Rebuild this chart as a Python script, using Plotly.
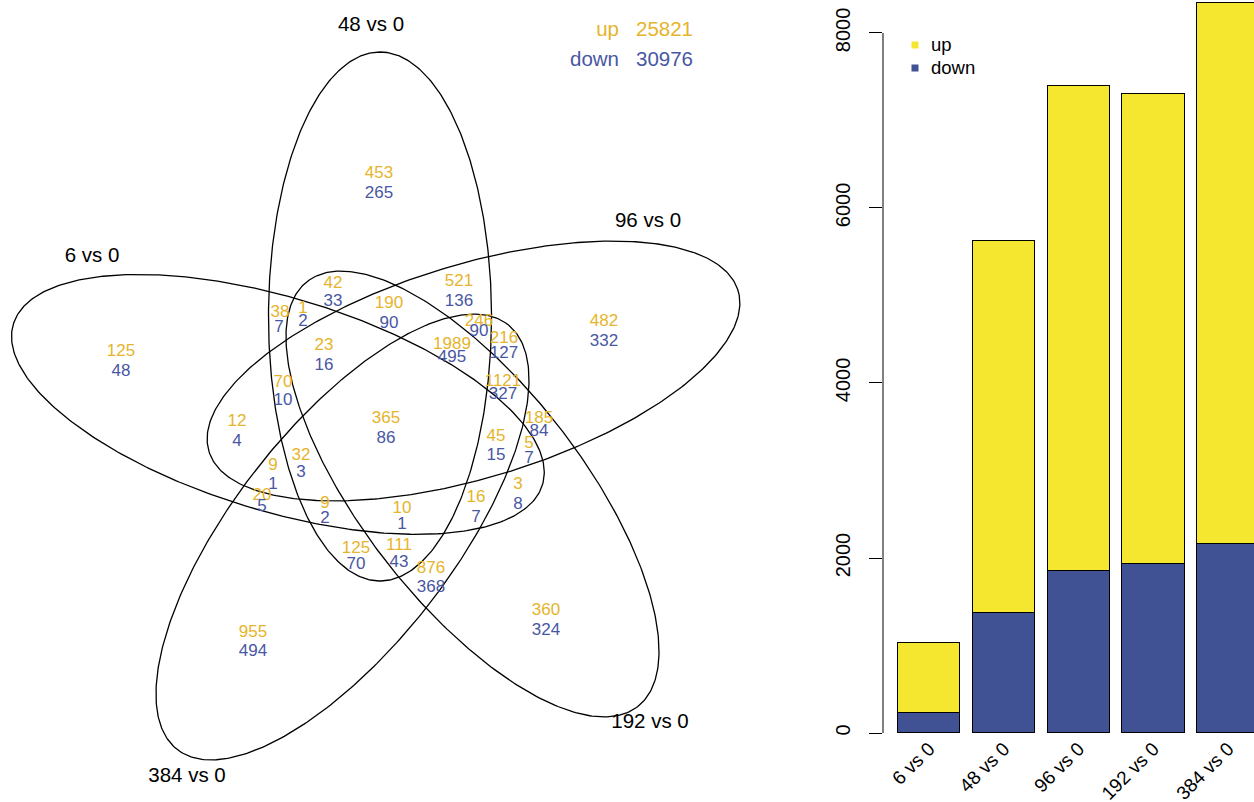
import numpy as np
import plotly.graph_objects as go

# ---------------- data ----------------
comparisons = ["6 vs 0", "48 vs 0", "96 vs 0", "192 vs 0", "384 vs 0"]
down_counts = [233, 1375, 1848, 1931, 2160]
up_counts = [792, 4248, 5546, 5372, 6186]          # stacked on top of the down part

total_up = 25821
total_down = 30976

# per-region counts of the five-set Venn diagram
region_up = [453, 482, 125, 955, 360, 365, 521, 190, 42, 38, 1, 23, 70, 12, 9, 32,
             20, 9, 10, 125, 111, 876, 16, 3, 45, 5, 185, 1121, 216, 246, 1989]
region_down = [265, 332, 48, 494, 324, 86, 136, 90, 33, 7, 2, 16, 10, 4, 1, 3,
               5, 2, 1, 70, 43, 368, 7, 8, 15, 7, 84, 327, 127, 90, 495]

# ---------------- layout helpers (pixel positions of the venn panel) ----------------
W, H = 1254, 802
UP_TXT = "#E6B42C"
DOWN_TXT = "#4857A3"
UP_BAR = "#F5E62F"
DOWN_BAR = "#405194"
FONT = "Liberation Sans, Arial, Helvetica, sans-serif"
TXT_DY = 1   # baseline correction for vertically centred text

up_pos = [(379, 173), (604, 321), (121, 351), (253, 632), (546, 610), (386, 418),
          (459, 281), (389, 303), (333, 283), (280, 312), (303, 308), (324, 345),
          (283, 382), (237, 421), (273, 465), (301, 455), (262, 495), (325, 503),
          (402, 508), (356, 548), (399, 545), (431, 568), (476, 497), (518, 484),
          (496, 436), (529, 443), (539, 418), (503, 381), (504, 338), (479, 321),
          (452, 344)]
down_pos = [(379, 193), (604, 341), (121, 371), (253, 651), (546, 630), (386, 438),
            (459, 301), (389, 323), (333, 301), (279, 327), (303, 321), (324, 365),
            (283, 400), (237, 441), (273, 484), (301, 472), (262, 506), (325, 518),
            (402, 524), (356, 564), (399, 562), (431, 587), (476, 517), (518, 504),
            (496, 455), (529, 458), (539, 431), (503, 394), (504, 353), (479, 331),
            (452, 357)]

# ellipse geometry: centre (px), orientation of the major axis (deg), semi axes
ell_centres = {"6 vs 0": (277.9, 404.4), "48 vs 0": (380, 316.5), "96 vs 0": (473.5, 371),
               "192 vs 0": (472.5, 494), "384 vs 0": (342.5, 537)}
ell_angle = {"6 vs 0": 162, "48 vs 0": 90, "96 vs 0": 18, "192 vs 0": 126, "384 vs 0": 54}
SEMI_A, SEMI_B, X_STRETCH = 264.5, 106.2, 1.05

set_label_pos = {"6 vs 0": (92, 256), "48 vs 0": (371, 25), "96 vs 0": (648, 221),
                 "192 vs 0": (650, 722), "384 vs 0": (187, 776)}


def ys(points):
    return [p[1] + TXT_DY for p in points]


fig = go.Figure()

# ---------------- Venn diagram ----------------
t = np.linspace(0, 2 * np.pi, 400)
for name in comparisons:
    cx, cy = ell_centres[name]
    phi = np.deg2rad(ell_angle[name])
    ex = SEMI_A * np.cos(t) * np.cos(phi) - SEMI_B * np.sin(t) * np.sin(phi)
    ey = SEMI_A * np.cos(t) * np.sin(phi) + SEMI_B * np.sin(t) * np.cos(phi)
    fig.add_trace(go.Scatter(x=cx + X_STRETCH * ex, y=cy - ey, mode="lines",
                             line=dict(color="black", width=1.3),
                             xaxis="x2", yaxis="y2", hoverinfo="skip", showlegend=False))

fig.add_trace(go.Scatter(x=[p[0] for p in up_pos], y=ys(up_pos),
                         text=[str(v) for v in region_up], mode="text",
                         textfont=dict(family=FONT, size=17, color=UP_TXT),
                         xaxis="x2", yaxis="y2", showlegend=False))
fig.add_trace(go.Scatter(x=[p[0] for p in down_pos], y=ys(down_pos),
                         text=[str(v) for v in region_down], mode="text",
                         textfont=dict(family=FONT, size=17, color=DOWN_TXT),
                         xaxis="x2", yaxis="y2", showlegend=False))

label_pts = [set_label_pos[n] for n in comparisons]
fig.add_trace(go.Scatter(x=[p[0] for p in label_pts], y=ys(label_pts),
                         text=comparisons, mode="text",
                         textfont=dict(family=FONT, size=20.5, color="black"),
                         xaxis="x2", yaxis="y2", showlegend=False))

# totals in the upper right of the venn panel
tot_word_pts = [(619, 30), (619, 60)]
tot_num_pts = [(636, 30), (636, 60)]
fig.add_trace(go.Scatter(x=[p[0] for p in tot_word_pts], y=ys(tot_word_pts),
                         text=["up", "down"], mode="text", textposition="middle left",
                         textfont=dict(family=FONT, size=20.5, color=[UP_TXT, DOWN_TXT]),
                         xaxis="x2", yaxis="y2", showlegend=False))
fig.add_trace(go.Scatter(x=[p[0] for p in tot_num_pts], y=ys(tot_num_pts),
                         text=[str(total_up), str(total_down)],
                         mode="text", textposition="middle right",
                         textfont=dict(family=FONT, size=20.5, color=[UP_TXT, DOWN_TXT]),
                         xaxis="x2", yaxis="y2", showlegend=False))

# ---------------- stacked bars ----------------
xpos = [0.7 + 1.2 * i for i in range(len(comparisons))]
fig.add_trace(go.Bar(x=xpos, y=down_counts, width=1, name="down",
                     marker=dict(color=DOWN_BAR, line=dict(color="black", width=1)),
                     xaxis="x", yaxis="y", showlegend=False))
fig.add_trace(go.Bar(x=xpos, y=up_counts, width=1, name="up",
                     marker=dict(color=UP_BAR, line=dict(color="black", width=1)),
                     xaxis="x", yaxis="y", showlegend=False))

# bar legend
key_pts = [(915, 45), (915, 68)]
fig.add_trace(go.Scatter(x=[p[0] for p in key_pts], y=[p[1] for p in key_pts],
                         mode="markers",
                         marker=dict(symbol="square", size=7, color=[UP_BAR, DOWN_BAR]),
                         xaxis="x2", yaxis="y2", showlegend=False, hoverinfo="skip"))
key_txt_pts = [(931, 45), (931, 68)]
fig.add_trace(go.Scatter(x=[p[0] for p in key_txt_pts], y=ys(key_txt_pts),
                         text=["up", "down"], mode="text", textposition="middle right",
                         textfont=dict(family=FONT, size=18.5, color="black"),
                         xaxis="x2", yaxis="y2", showlegend=False))

bar_left = 883 / W
fig.update_layout(
    width=W, height=H, margin=dict(l=0, r=0, t=0, b=0, autoexpand=False),
    paper_bgcolor="white", plot_bgcolor="rgba(0,0,0,0)",
    barmode="stack", bargap=0,
    font=dict(family=FONT, size=20, color="black"),
    xaxis=dict(domain=[bar_left, 1], range=[-0.041, 5.914], tickvals=xpos,
               ticktext=comparisons, tickangle=-45, showgrid=False, zeroline=False,
               showline=False, ticks="", tickfont=dict(size=19), anchor="y",
               automargin=False),
    yaxis=dict(domain=[(H - 733) / H, 1], range=[0, 8377],
               tickvals=[0, 2000, 4000, 6000, 8000], tickangle=-90,
               ticks="outside", ticklen=13, tickcolor="black", tickwidth=1,
               showgrid=False, zeroline=False, showline=False,
               ticklabelstandoff=11, tickfont=dict(size=20), anchor="x",
               automargin=False),
    xaxis2=dict(domain=[0, 1], range=[0, W], visible=False, anchor="y2", automargin=False),
    yaxis2=dict(domain=[0, 1], range=[H, 0], visible=False, anchor="x2", automargin=False),
    shapes=[dict(type="line", xref="x domain", yref="y", x0=0, x1=0, y0=0, y1=8000,
                 line=dict(color="black", width=1))],
)

fig.write_html("out.html")
